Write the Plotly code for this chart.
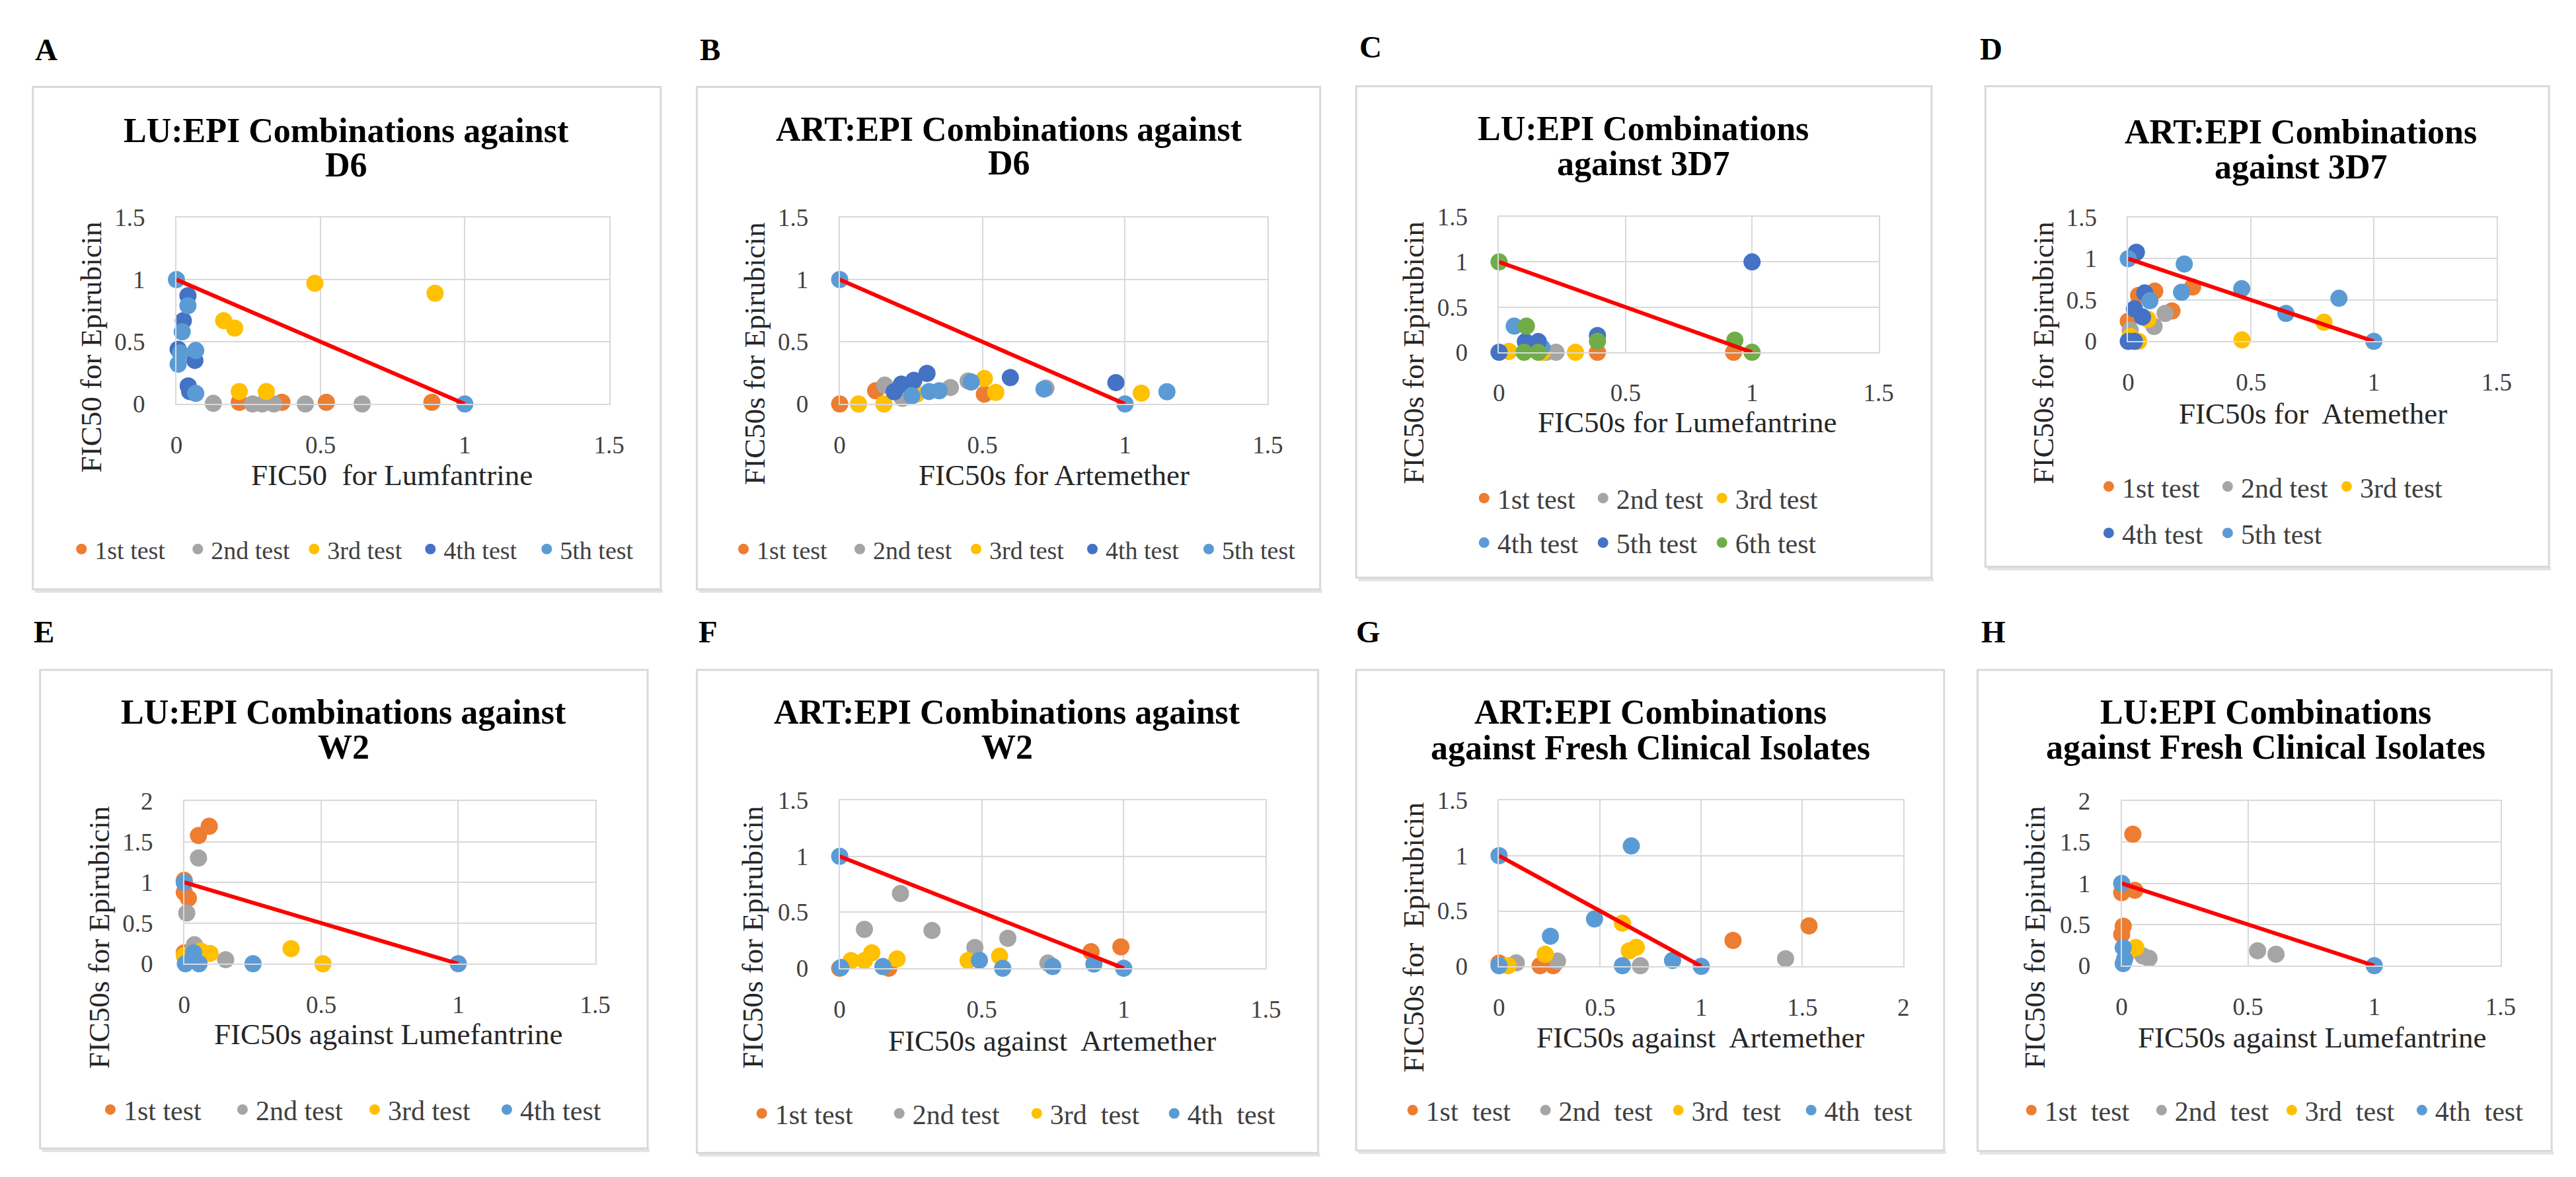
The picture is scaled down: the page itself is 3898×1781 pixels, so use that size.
import plotly.graph_objects as go

W, H = 3898, 1781
SERIF = "Liberation Serif"
ORANGE, GRAY, YELLOW = "#ED7D31", "#A5A5A5", "#FFC000"
DBLUE, LBLUE, GREEN = "#4472C4", "#5B9BD5", "#70AD47"

# additivity line (isobole)
iso_x = [0, 1]
iso_y = [1, 0]

# ---- A: LU:EPI vs D6
a_names = ["1st test", "2nd test", "3rd test", "4th test", "5th test"]
a_x = [
    [0.218, 0.366, 0.52, 0.886],
    [0.128, 0.264, 0.298, 0.338, 0.447, 0.644],
    [0.48, 0.897, 0.164, 0.202, 0.218, 0.312],
    [0.04, 0.024, 0.006, 0.064, 0.041, 0.046],
    [0, 1, 0.04, 0.02, 0.014, 0.006, 0.067, 0.067],
]
a_y = [
    [0.013, 0.013, 0.013, 0.013],
    [0.005, 0, 0, 0, 0, 0],
    [0.97, 0.89, 0.67, 0.61, 0.1, 0.1],
    [0.87, 0.67, 0.44, 0.35, 0.145, 0.1],
    [1, 0, 0.79, 0.58, 0.41, 0.32, 0.43, 0.085],
]

# ---- B: ART:EPI vs D6
b_names = a_names
b_x = [
    [0, 0.126, 0.507],
    [0.158, 0.22, 0.388, 0.45, 0.723],
    [0.066, 0.155, 0.27, 0.507, 0.547, 1.057],
    [0.191, 0.216, 0.26, 0.306, 0.598, 0.968],
    [0, 1, 0.253, 0.313, 0.349, 0.461, 0.716, 1.147],
]
b_y = [
    [0, 0.106, 0.079],
    [0.151, 0.045, 0.132, 0.185, 0.127],
    [0, 0, 0.08, 0.204, 0.093, 0.087],
    [0.098, 0.159, 0.19, 0.246, 0.212, 0.172],
    [1, 0, 0.066, 0.1, 0.106, 0.177, 0.12, 0.098],
]

# ---- C: LU:EPI vs 3D7
c_names = ["1st test", "2nd test", "3rd test", "4th test", "5th test", "6th test"]
c_x = [
    [0.389, 0.927],
    [0.186, 0.225],
    [0.039, 0.17, 0.302],
    [0.06, 0.12, 0.17],
    [1, 0, 0.104, 0.155, 0.389],
    [0, 1, 0.108, 0.389, 0.932, 0.099, 0.155],
]
c_y = [
    [0, 0],
    [0, 0],
    [0.01, 0, 0],
    [0.29, 0.09, 0.05],
    [1, 0, 0.119, 0.119, 0.186],
    [1, 0, 0.29, 0.124, 0.134, 0, 0],
]

# ---- D: ART:EPI vs 3D7
d_names = a_names
d_x = [
    [0.042, 0.108, 0.262, 0.178, 0],
    [0.15, 0.105, 0.008],
    [0.463, 0.797, 0.042, 0.08, 0.008],
    [0.033, 0.067, 0.025, 0.058, 0, 0.025],
    [0, 1, 0.228, 0.462, 0.217, 0.858, 0.642, 0.088],
]
d_y = [
    [0.556, 0.607, 0.658, 0.368, 0.244],
    [0.338, 0.18, 0.137],
    [0.017, 0.231, 0, 0.265, 0.06],
    [1.077, 0.585, 0.393, 0.295, 0, 0],
    [1, 0, 0.936, 0.637, 0.594, 0.521, 0.338, 0.491],
]

# ---- E: LU:EPI vs W2
e_names = ["1st test", "2nd test", "3rd test", "4th test"]
e_x = [
    [0.091, 0.052, 0, 0, 0.015, 0],
    [0.052, 0.009, 0.037, 0.151],
    [0.39, 0.506, 0.094, 0.06, 0],
    [0, 1, 0.251, 0.004, 0.054, 0.034],
]
e_y = [
    [1.69, 1.576, 1.025, 0.877, 0.805, 0.135],
    [1.3, 0.623, 0.233, 0.05],
    [0.186, 0, 0.127, 0.157, 0.1],
    [1, 0, 0, 0, 0, 0.135],
]

# ---- F: ART:EPI vs W2
f_names = ["1st test", "2nd test", "3rd\u00a0 test", "4th\u00a0 test"]
f_x = [
    [0.99, 0.885, 0.173, 0],
    [0.214, 0.087, 0.325, 0.592, 0.476, 0.733],
    [0.04, 0.087, 0.113, 0.202, 0.452, 0.563],
    [0, 1, 0.004, 0.152, 0.492, 0.574, 0.75, 0.895],
]
f_y = [
    [0.191, 0.148, 0, 0],
    [0.668, 0.348, 0.338, 0.268, 0.185, 0.046],
    [0.068, 0.068, 0.138, 0.083, 0.068, 0.108],
    [1, 0, 0.006, 0.015, 0.071, 0, 0.015, 0.037],
]

# ---- G: ART:EPI vs fresh clinical isolates
g_names = ["1st\u00a0 test", "2nd\u00a0 test", "3rd\u00a0 test", "4th\u00a0 test"]
g_x = [
    [1.157, 1.533, 0.203, 0.268, 0],
    [1.417, 0.699, 0.289, 0.085],
    [0.61, 0.228, 0.644, 0.679, 0.045],
    [0, 1, 0.654, 0.472, 0.254, 0.61, 0.858, 0],
]
g_y = [
    [0.234, 0.366, 0.006, 0.006, 0.03],
    [0.069, 0.006, 0.047, 0.031],
    [0.39, 0.109, 0.14, 0.172, 0.006],
    [1, 0, 1.088, 0.428, 0.272, 0.006, 0.053, 0.006],
]

# ---- H: LU:EPI vs fresh clinical isolates
h_names = g_names
h_x = [
    [0.044, 0.052, 0, 0.006, 0],
    [0.538, 0.611, 0.108, 0.084],
    [0.056, 0.02],
    [0, 1, 0.006, 0.006, 0.011],
]
h_y = [
    [1.597, 0.916, 0.887, 0.48, 0.38],
    [0.181, 0.139, 0.09, 0.118],
    [0.22, 0.139],
    [1, 0, 0.22, 0.026, 0.076],
]

# ---- layout of each panel, in pixels of the 3898x1781 page
panels = [
    dict(letter="A", lpos=(53, 48), box=(33, 106, 991, 884), plot=(252, 912, 308, 597),
         xmax=1.5, ymax=1.5, title=("LU:EPI Combinations against", "D6"), tpos=(511, 173, 227),
         xt="FIC50\u00a0 for Lumfantrine", xtpos=(581, 707), yt="FIC50 for Epirubicin", ytpos=(122, 509),
         names=a_names, xs=a_x, ys=a_y, colors=[ORANGE, GRAY, YELLOW, DBLUE, LBLUE],
         legends=[(range(5), 822, 109, 173)], lfont=38),
    dict(letter="B", lpos=(1066, 48), box=(1046, 106, 1997, 884), plot=(1264, 1917, 308, 597),
         xmax=1.5, ymax=1.5, title=("ART:EPI Combinations against", "D6"), tpos=(1522, 171, 224),
         xt="FIC50s for Artemether", xtpos=(1591, 707), yt="FIC50s for Epirubicin", ytpos=(1134, 519),
         names=b_names, xs=b_x, ys=b_y, colors=[ORANGE, GRAY, YELLOW, DBLUE, LBLUE],
         legends=[(range(5), 822, 1119, 173)], lfont=38),
    dict(letter="C", lpos=(2074, 44), box=(2052, 105, 2930, 866), plot=(2270, 2849, 307, 517),
         xmax=1.5, ymax=1.5, title=("LU:EPI Combinations", "against 3D7"), tpos=(2490, 170, 225),
         xt="FIC50s for Lumefantrine", xtpos=(2557, 625), yt="FIC50s for Epirubicin", ytpos=(2140, 518),
         names=c_names, xs=c_x, ys=c_y, colors=[ORANGE, GRAY, YELLOW, LBLUE, DBLUE, GREEN],
         legends=[(range(3), 743, 2249, 177), (range(3, 6), 812, 2249, 177)], lfont=42),
    dict(letter="D", lpos=(3021, 47), box=(3012, 105, 3872, 849), plot=(3230, 3792, 308, 500),
         xmax=1.5, ymax=1.5, title=("ART:EPI Combinations", "against 3D7"), tpos=(3493, 176, 230),
         xt="FIC50s for\u00a0 Atemether", xtpos=(3512, 612), yt="FIC50s for Epirubicin", ytpos=(3101, 518),
         names=d_names, xs=d_x, ys=d_y, colors=[ORANGE, GRAY, YELLOW, DBLUE, LBLUE],
         legends=[(range(3), 725, 3202, 177), (range(3, 5), 797, 3202, 177)], lfont=42),
    dict(letter="E", lpos=(50, 950), box=(44, 1009, 971, 1750), plot=(264, 891, 1212, 1464),
         xmax=1.5, ymax=2, title=("LU:EPI Combinations against", "W2"), tpos=(507, 1074, 1128),
         xt="FIC50s against Lumefantrine", xtpos=(575, 1573), yt="FIC50s for Epirubicin", ytpos=(134, 1423),
         names=e_names, xs=e_x, ys=e_y, colors=[ORANGE, GRAY, YELLOW, LBLUE],
         legends=[(range(4), 1690, 153, 197)], lfont=42),
    dict(letter="F", lpos=(1063, 950), box=(1046, 1009, 1994, 1757), plot=(1264, 1914, 1211, 1471),
         xmax=1.5, ymax=1.5, title=("ART:EPI Combinations against", "W2"), tpos=(1519, 1074, 1128),
         xt="FIC50s against\u00a0 Artemether", xtpos=(1588, 1583), yt="FIC50s for Epirubicin", ytpos=(1132, 1423),
         names=f_names, xs=f_x, ys=f_y, colors=[ORANGE, GRAY, YELLOW, LBLUE],
         legends=[(range(4), 1696, 1147, 205)], lfont=42),
    dict(letter="G", lpos=(2071, 950), box=(2052, 1009, 2949, 1753), plot=(2270, 2887, 1211, 1468),
         xmax=2, ymax=1.5, title=("ART:EPI Combinations", "against Fresh Clinical Isolates"), tpos=(2501, 1074, 1129),
         xt="FIC50s against\u00a0 Artemether", xtpos=(2577, 1578), yt="FIC50s for\u00a0 Epirubicin", ytpos=(2140, 1423),
         names=g_names, xs=g_x, ys=g_y, colors=[ORANGE, GRAY, YELLOW, LBLUE],
         legends=[(range(4), 1691, 2140, 198)], lfont=42),
    dict(letter="H", lpos=(3024, 950), box=(3000, 1009, 3876, 1754), plot=(3220, 3798, 1212, 1467),
         xmax=1.5, ymax=2, title=("LU:EPI Combinations", "against Fresh Clinical Isolates"), tpos=(3440, 1074, 1128),
         xt="FIC50s against Lumefantrine", xtpos=(3510, 1578), yt="FIC50s for Epirubicin", ytpos=(3088, 1423),
         names=h_names, xs=h_x, ys=h_y, colors=[ORANGE, GRAY, YELLOW, LBLUE],
         legends=[(range(4), 1691, 3084, 194)], lfont=42),
]


def px(x):
    return x / W


def py(y):
    return 1 - y / H


fig = go.Figure()
shapes, annotations = [], []
legend_count = 0
layout = {}

for i, p in enumerate(panels):
    n = "" if i == 0 else str(i + 1)
    xa, ya = "x" + n, "y" + n
    x0, x1, yt, yb = p["plot"]
    axis_common = dict(
        showgrid=True, gridcolor="#D9D9D9", gridwidth=2,
        zeroline=False, showline=True, linecolor="#D9D9D9", linewidth=2, mirror=True,
        dtick=0.5, tick0=0, ticks="outside", tickcolor="rgba(0,0,0,0)",
        tickfont=dict(family=SERIF, size=37, color="#404040"), fixedrange=True,
    )
    layout["xaxis" + n] = dict(axis_common, domain=[px(x0), px(x1)], range=[0, p["xmax"]],
                               anchor=ya, ticklen=28)
    layout["yaxis" + n] = dict(axis_common, domain=[py(yb), py(yt)], range=[0, p["ymax"]],
                               anchor=xa, ticklen=38)

    # legends for this panel (one legend per row)
    leg_ids = {}
    for rows, ly, lx, step in p["legends"]:
        legend_count += 1
        lid = "legend" if legend_count == 1 else "legend%d" % legend_count
        layout[lid] = dict(
            x=px(lx - 22), y=py(ly), xanchor="left", yanchor="middle", orientation="h",
            font=dict(family=SERIF, size=p["lfont"], color="#404040"),
            bgcolor="rgba(0,0,0,0)", entrywidth=step - 42, entrywidthmode="pixels",
            traceorder="normal", itemclick=False, itemdoubleclick=False,
        )
        for k in rows:
            leg_ids[k] = lid

    for k, name in enumerate(p["names"]):
        fig.add_trace(go.Scatter(
            x=p["xs"][k], y=p["ys"][k], mode="markers", name=name,
            marker=dict(size=26, color=p["colors"][k], line=dict(width=0)),
            xaxis=xa, yaxis=ya, legend=leg_ids[k], cliponaxis=False, hoverinfo="skip",
        ))
    fig.add_trace(go.Scatter(
        x=iso_x, y=iso_y, mode="lines", line=dict(color="#FF0000", width=6),
        xaxis=xa, yaxis=ya, showlegend=False, cliponaxis=False, hoverinfo="skip",
    ))

    bx0, by0, bx1, by1 = p["box"]
    shapes.append(dict(type="line", xref="paper", yref="paper", x0=px(bx0 + 3), x1=px(bx1 + 3),
                       y0=py(by1 + 3), y1=py(by1 + 3), line=dict(color="#E3E3E3", width=5), layer="below"))
    shapes.append(dict(type="rect", xref="paper", yref="paper", x0=px(bx0), x1=px(bx1),
                       y0=py(by1), y1=py(by0), line=dict(color="#D9D9D9", width=3),
                       fillcolor="white", layer="below"))

    lx, ly = p["lpos"]
    annotations.append(dict(text="<b>%s</b>" % p["letter"], x=px(lx), y=py(ly), xref="paper", yref="paper",
                            showarrow=False, xanchor="center", yanchor="middle",
                            font=dict(family=SERIF, size=47, color="black")))
    tx, t1, t2 = p["tpos"]
    for line, ty in zip(p["title"], (t1, t2)):
        annotations.append(dict(text="<b>%s</b>" % line, x=px(tx), y=py(ty), xref="paper", yref="paper",
                                showarrow=False, xanchor="center", yanchor="middle",
                                font=dict(family=SERIF, size=52, color="black")))
    xtx, xty = p["xtpos"]
    annotations.append(dict(text=p["xt"], x=px(xtx), y=py(xty), xref="paper", yref="paper",
                            showarrow=False, xanchor="center", yanchor="middle",
                            font=dict(family=SERIF, size=45, color="#262626")))
    ytx, yty = p["ytpos"]
    annotations.append(dict(text=p["yt"], x=px(ytx), y=py(yty), xref="paper", yref="paper",
                            showarrow=False, xanchor="center", yanchor="middle", textangle=-90,
                            font=dict(family=SERIF, size=45, color="#262626")))

fig.update_layout(
    width=W, height=H, margin=dict(l=0, r=0, t=0, b=0),
    paper_bgcolor="white", plot_bgcolor="white",
    shapes=shapes, annotations=annotations, **layout,
)

fig.write_html("out.html")
